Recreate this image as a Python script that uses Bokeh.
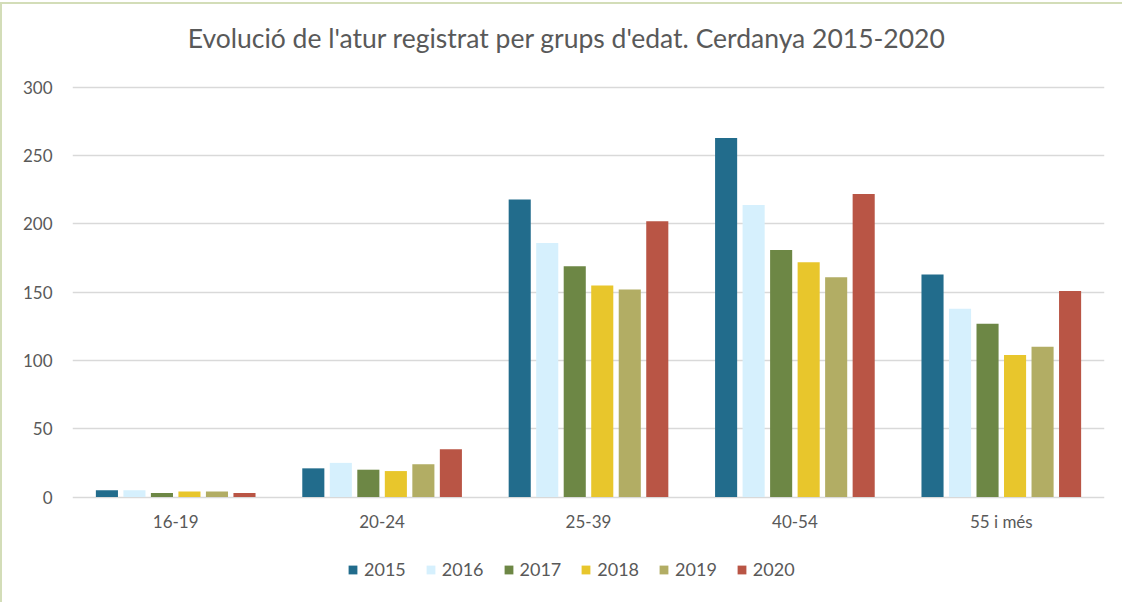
from bokeh.plotting import figure
from bokeh.models import (ColumnDataSource, FactorRange, Range1d, Legend, LegendItem,
                          FixedTicker)
from bokeh.transform import dodge
from bokeh.core.properties import value
from bokeh.embed import file_html
from bokeh.resources import INLINE

title_text = "Evolució de l'atur registrat per grups d'edat. Cerdanya 2015-2020"
categories = ["16-19", "20-24", "25-39", "40-54", "55 i més"]
years = ["2015", "2016", "2017", "2018", "2019", "2020"]
v2015 = [5, 21, 218, 263, 163]
v2016 = [5, 25, 186, 214, 138]
v2017 = [3, 20, 169, 181, 127]
v2018 = [4, 19, 155, 172, 104]
v2019 = [4, 24, 152, 161, 110]
v2020 = [3, 35, 202, 222, 151]
y_ticks = [0, 50, 100, 150, 200, 250, 300]
colors = ["#226c8c", "#d6f0fd", "#6d8745", "#e8c62c", "#b2ad64", "#b95545"]

series = [v2015, v2016, v2017, v2018, v2019, v2020]
data = {"cat": categories, "lab_y": [-17.6] * len(categories)}
for y, s in zip(years, series):
    data[y] = s
source = ColumnDataSource(data)
title_src = ColumnDataSource({"x": [categories[2]], "y": [336.5], "t": [title_text]})

FONT = "Lato"
GREY = "#595959"
BORDER = "#d3ddb8"

p = figure(x_range=FactorRange(*categories, range_padding=0), y_range=Range1d(-75.82, 360.8),
           width=1122, height=602, output_backend="svg", toolbar_location=None,
           min_border_left=72, min_border_right=18, min_border_top=4, min_border_bottom=2)
p.border_fill_alpha = 0
p.background_fill_alpha = 0
p.styles = {
    "background-image": f"linear-gradient({BORDER},{BORDER}), linear-gradient({BORDER},{BORDER})",
    "background-size": "2px 600px, 1122px 2px",
    "background-position": "0px 2px, 0px 2px",
    "background-repeat": "no-repeat",
}

pitch = 0.1333
width = 0.107
items = []
for i, (y, c) in enumerate(zip(years, colors)):
    r = p.vbar(x=dodge("cat", (i - 2.5) * pitch, range=p.x_range), top=y, width=width,
               source=source, fill_color=c, line_color=None)
    items.append(LegendItem(label=y, renderers=[r]))

# chart title
p.text(x=dodge("x", -0.105, range=p.x_range), y="y", text="t", source=title_src,
       text_align="center", text_baseline="alphabetic", text_font=value(FONT),
       text_font_size="26.5px", text_color=GREY)

# category labels (under the zero line)
p.text(x="cat", y="lab_y", text="cat", source=source, text_align="center",
       text_baseline="alphabetic", text_font=value(FONT), text_font_size="17px", text_color=GREY)

legend = Legend(items=items, orientation="horizontal", location=(275, 20),
                label_text_font=FONT, label_text_font_size="18px", label_text_color=GREY,
                glyph_width=11, glyph_height=11, label_standoff=6, spacing=19,
                border_line_color=None, background_fill_alpha=0, margin=0, padding=4)
p.add_layout(legend)

p.outline_line_color = None
p.xaxis.visible = False
p.xgrid.grid_line_color = None
p.ygrid.grid_line_color = "#d9d9d9"
p.ygrid.grid_line_width = 1.5
p.yaxis.ticker = FixedTicker(ticks=y_ticks)
p.yaxis.axis_line_color = None
p.yaxis.major_tick_line_color = None
p.yaxis.minor_tick_line_color = None
p.yaxis.major_label_standoff = 14
p.yaxis.major_label_text_font = FONT
p.yaxis.major_label_text_font_size = "17px"
p.yaxis.major_label_text_color = GREY

open("out.html", "w").write(file_html(p, INLINE))
